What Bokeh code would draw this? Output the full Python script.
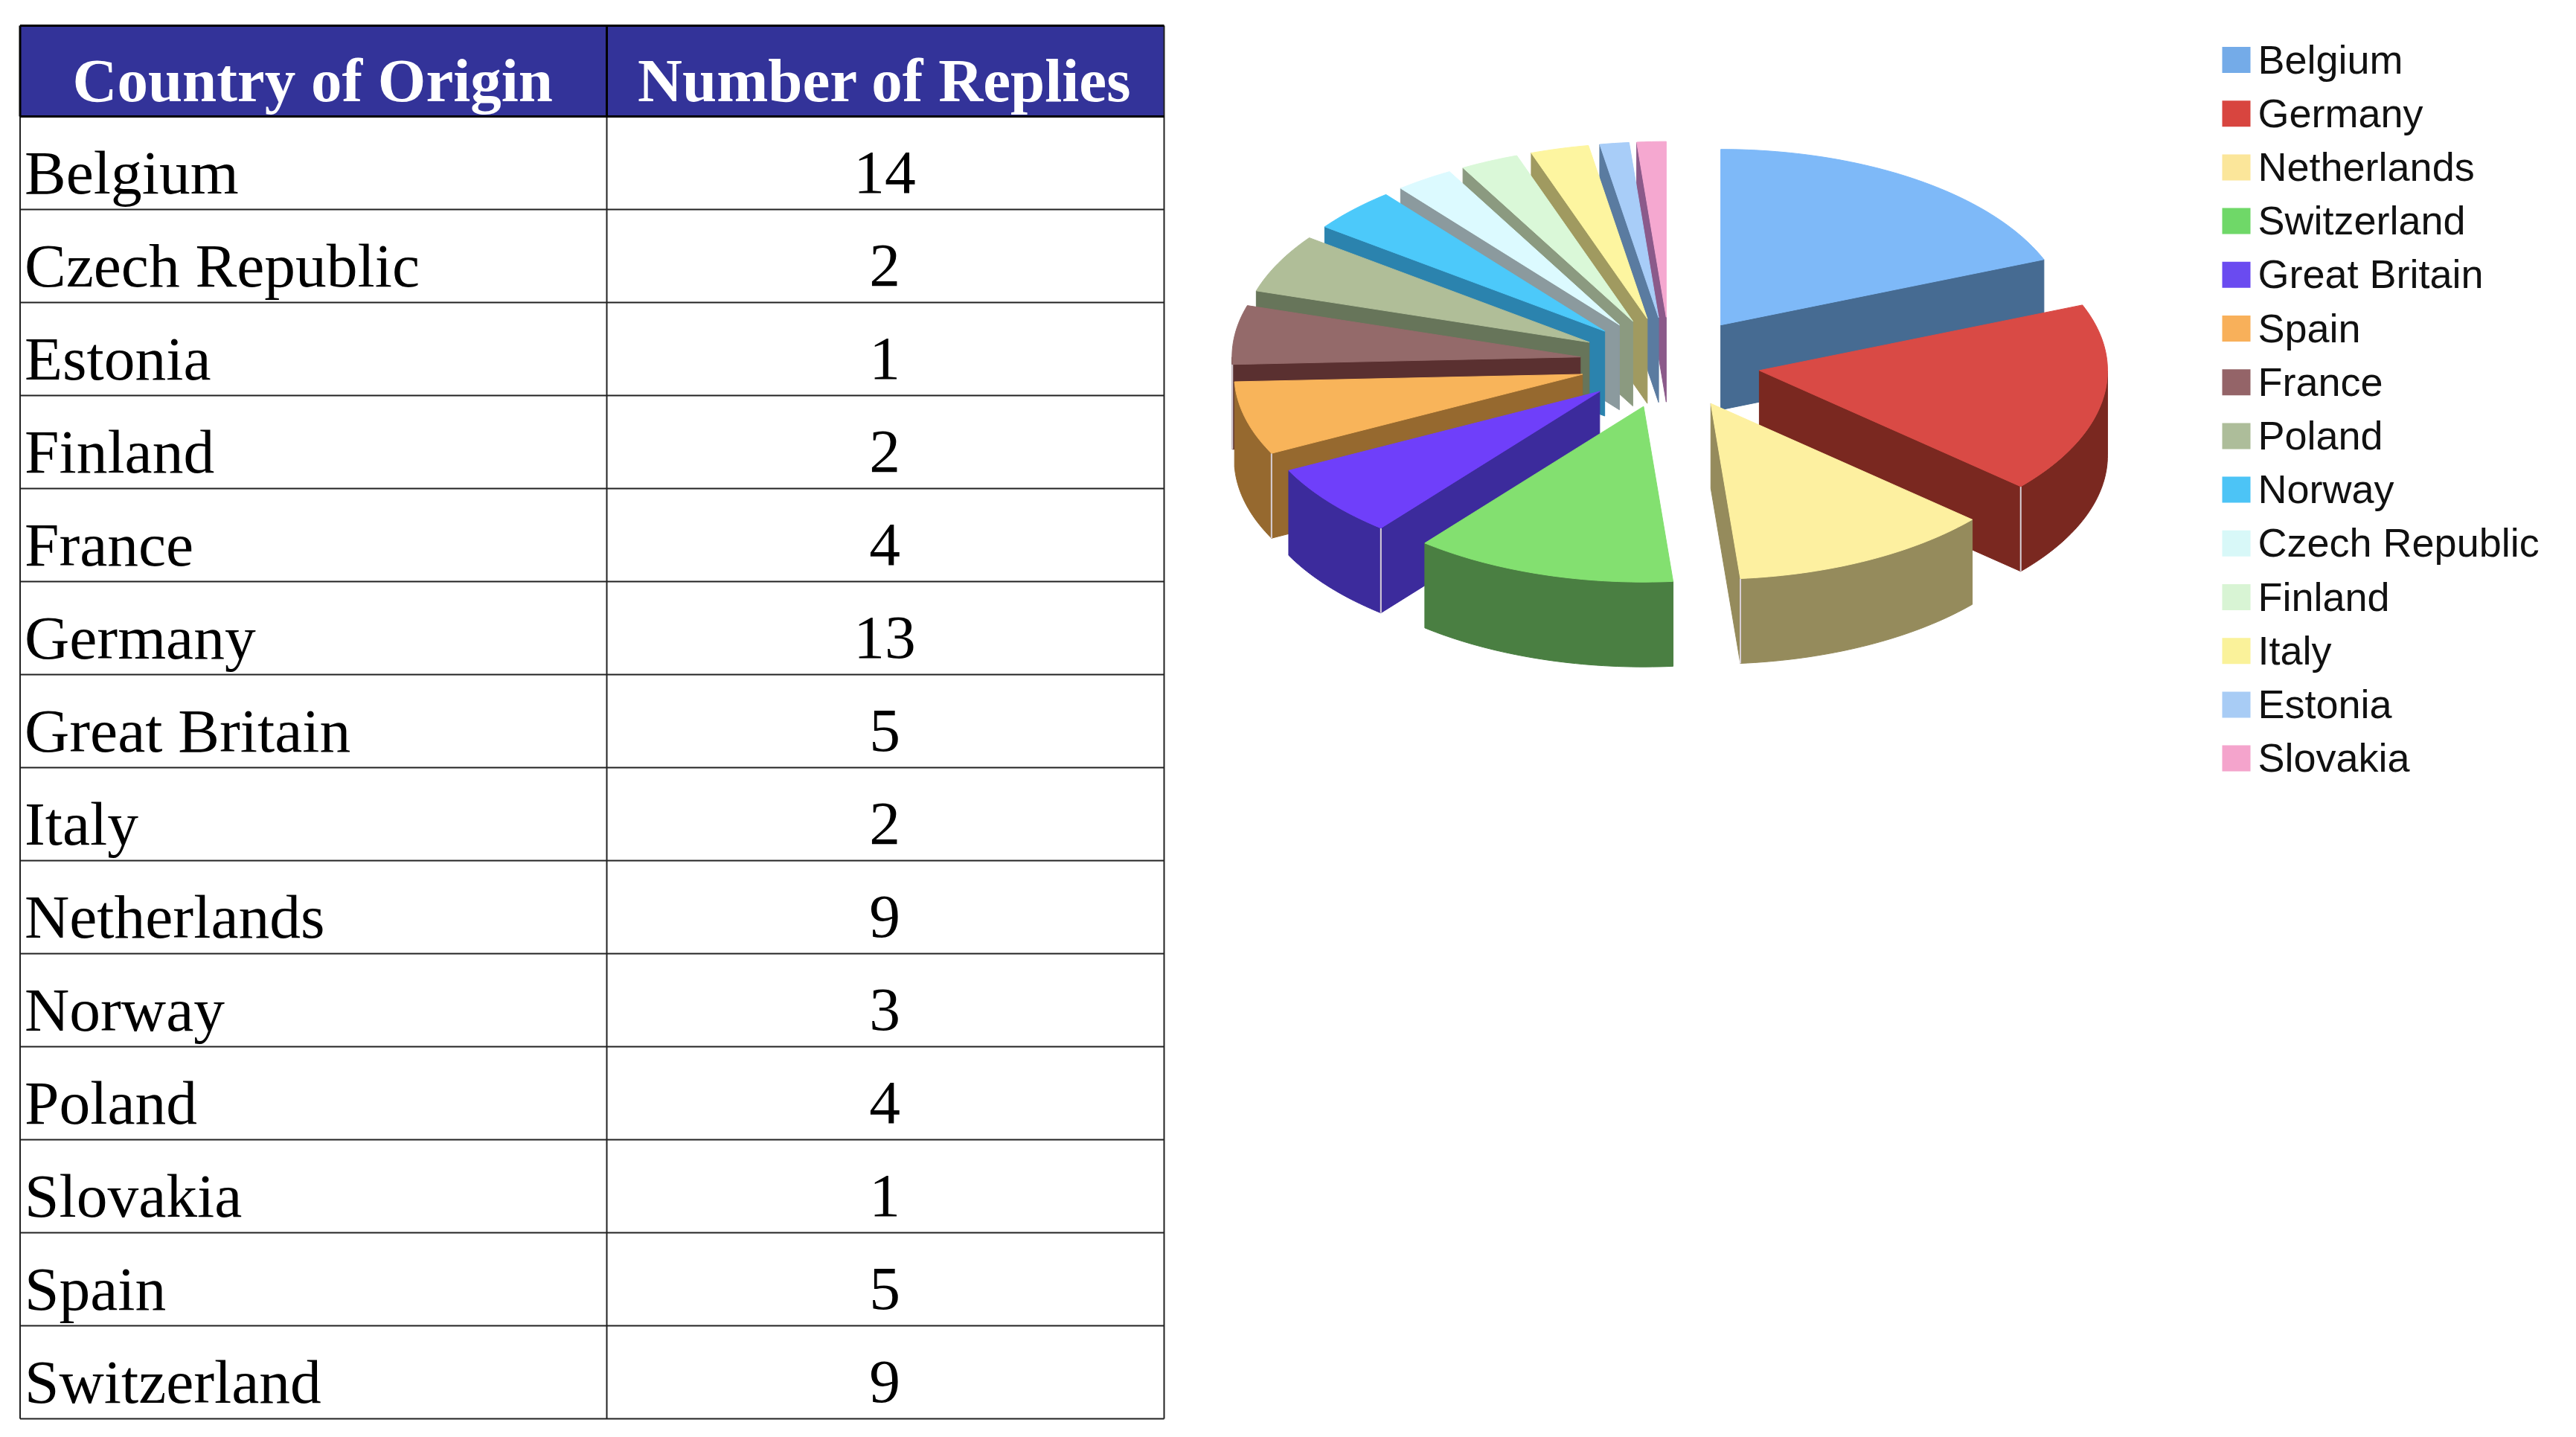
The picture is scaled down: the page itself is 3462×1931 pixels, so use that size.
import math
from bokeh.plotting import figure
from bokeh.models import Range1d
from bokeh.core.properties import value
from bokeh.embed import file_html
from bokeh.resources import INLINE

# ---- data ----
table_countries = ["Belgium", "Czech Republic", "Estonia", "Finland", "France", "Germany",
                   "Great Britain", "Italy", "Netherlands", "Norway", "Poland", "Slovakia",
                   "Spain", "Switzerland"]
table_replies = [14, 2, 1, 2, 4, 13, 5, 2, 9, 3, 4, 1, 5, 9]
header_labels = ["Country of Origin", "Number of Replies"]
pie_order = ["Belgium", "Germany", "Netherlands", "Switzerland", "Great Britain", "Spain",
             "France", "Poland", "Norway", "Czech Republic", "Finland", "Italy", "Estonia",
             "Slovakia"]
top_colors = ["#7eb9f8", "#d94a45", "#fdf0a0", "#83e070", "#6f3ffa", "#f8b45a", "#946a6a",
              "#b0be98", "#4cc9fa", "#dcfaff", "#daf8d8", "#fdf5a0", "#a8cdf8", "#f5a8d0"]
side_colors = ["#466b92", "#7a2820", "#958b5c", "#4a7f42", "#3c2b9c", "#96692f", "#5a3030",
               "#67755a", "#2b83ae", "#8b9a9e", "#8b9a80", "#a09a60", "#5a7ba0", "#8b5a8a"]
legend_colors = ["#74abe8", "#d8453f", "#fbe69a", "#6fd868", "#6a4bf0", "#f8b05a", "#946468",
                 "#adbd9a", "#4cc4f6", "#d8f8f8", "#d8f4d4", "#faf29a", "#a8ccf5", "#f4a4cc"]

# ---- layout ----
W, H = 3446, 1915
X0, XM, X1 = 26.5, 815, 1564
Y0, YH, ROW = 34, 156, 125
CX, CY, A, B, D, EXPL = 2244, 487, 468, 236, 114, 0.26
LX, LY, LSTEP = 2986, 80, 72.2
BASE_SHIFT = 0.33  # the text glyph sits this many ems below its anchor
BODY = 83.5

p = figure(width=W, height=H, output_backend="svg", toolbar_location=None,
           x_range=Range1d(0, W), y_range=Range1d(H, 0),
           min_border=0, outline_line_color=None, background_fill_color="white",
           border_fill_color="white")
p.axis.visible = False
p.grid.visible = False

# ---- table ----
n = len(table_countries)
YB = YH + n * ROW
p.quad(left=[X0], right=[X1], top=[Y0], bottom=[YH], fill_color="#333399", line_color=None)
p.segment(x0=[X0] * (n + 1), x1=[X1] * (n + 1),
          y0=[YH + i * ROW for i in range(n + 1)], y1=[YH + i * ROW for i in range(n + 1)],
          line_color="#222222", line_width=2)
p.segment(x0=[X0, XM, X1], x1=[X0, XM, X1], y0=[Y0] * 3, y1=[YB] * 3,
          line_color="#222222", line_width=2)
p.segment(x0=[X0, X0, X0, XM], x1=[X1, X1, X0, XM], y0=[Y0, YH, Y0, Y0], y1=[Y0, YH, YH, YH],
          line_color="#000000", line_width=3)

p.text(x=[(X0 + XM) / 2 - 1, (XM + X1) / 2 - 1], y=[YH - 21 - BASE_SHIFT * 83] * 2, text=header_labels,
       text_font=value("Liberation Serif"), text_font_style="bold", text_font_size="83px",
       text_color="white", text_align="center", text_baseline="alphabetic")
rows_y = [YH + (i + 1) * ROW - 22 - BASE_SHIFT * BODY for i in range(n)]
p.text(x=[X0 + 6] * n, y=rows_y, text=table_countries,
       text_font=value("Liberation Serif"), text_font_size=f"{BODY}px",
       text_color="black", text_align="left", text_baseline="alphabetic")
p.text(x=[(XM + X1) / 2 - 1] * n, y=rows_y, text=[str(v) for v in table_replies],
       text_font=value("Liberation Serif"), text_font_size=f"{BODY}px",
       text_color="black", text_align="center", text_baseline="alphabetic")

# ---- pie ----
lookup = dict(zip(table_countries, table_replies))
pie_values = [lookup[c] for c in pie_order]
total = sum(pie_values)

slices = []
acc = 0
for name, v, ct, cs in zip(pie_order, pie_values, top_colors, side_colors):
    t0 = acc / total * 2 * math.pi
    acc += v
    t1 = acc / total * 2 * math.pi
    mid = (t0 + t1) / 2
    slices.append(dict(t0=t0, t1=t1, mid=mid, top=ct, side=cs,
                       cx=CX + EXPL * A * math.sin(mid),
                       cy=CY - EXPL * B * math.cos(mid)))
slices.sort(key=lambda s: -math.cos(s["mid"]))


def rim(s, t):
    return s["cx"] + A * math.sin(t), s["cy"] - B * math.cos(t)


def arc(s, a0, a1):
    k = max(2, int((a1 - a0) / 0.02))
    return [rim(s, a0 + (a1 - a0) * i / k) for i in range(k + 1)]


for s in slices:
    apex = (s["cx"], s["cy"])
    polys = []
    # radial cut faces, where they turn to the viewer
    if math.sin(s["t0"]) < 0:
        e = rim(s, s["t0"])
        polys.append([apex, e, (e[0], e[1] + D), (apex[0], apex[1] + D)])
    if math.sin(s["t1"]) > 0:
        e = rim(s, s["t1"])
        polys.append([apex, e, (e[0], e[1] + D), (apex[0], apex[1] + D)])
    # outer wall: only its front half is ever seen
    a0, a1 = max(s["t0"], math.pi / 2), min(s["t1"], 3 * math.pi / 2)
    if a1 > a0:
        pts = arc(s, a0, a1)
        polys.append(pts + [(x, y + D) for x, y in reversed(pts)])
    if polys:
        p.patches(xs=[[q[0] for q in poly] for poly in polys],
                  ys=[[q[1] for q in poly] for poly in polys],
                  fill_color=s["side"], line_color=s["side"], line_width=1)
    # pale line down the visible outer corners
    for t in (s["t0"], s["t1"]):
        front_t0 = t == s["t0"] and math.pi < t < 3 * math.pi / 2
        front_t1 = t == s["t1"] and math.pi / 2 < t < math.pi
        if front_t0 or front_t1:
            e = rim(s, t)
            p.line(x=[e[0], e[0]], y=[e[1], e[1] + D], line_color="#d8d0d8", line_width=2)
    pts = [apex] + arc(s, s["t0"], s["t1"])
    p.patch(x=[q[0] for q in pts], y=[q[1] for q in pts],
            fill_color=s["top"], line_color=s["top"], line_width=1)

# ---- legend ----
m = len(pie_order)
p.rect(x=[LX + 19] * m, y=[LY + i * LSTEP for i in range(m)], width=38, height=35,
       fill_color=legend_colors, line_color=None)
p.text(x=[LX + 48] * m, y=[LY + 17 - BASE_SHIFT * 54 + i * LSTEP for i in range(m)], text=pie_order,
       text_font=value("Liberation Sans"), text_font_size="54px", text_color="#111111",
       text_align="left", text_baseline="alphabetic")

open("out.html", "w").write(file_html(p, INLINE))
